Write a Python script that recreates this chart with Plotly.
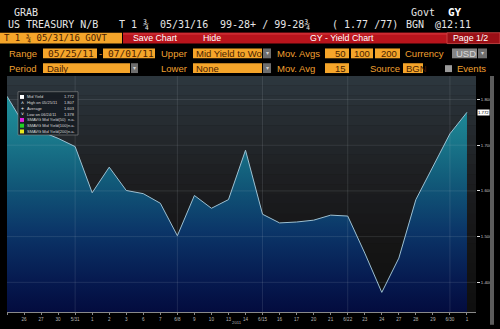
import plotly.graph_objects as go

# ---------------- data ----------------
dates = ["05/25/11", "05/26/11", "05/27/11", "05/30/11", "05/31/11", "06/01/11", "06/02/11",
         "06/03/11", "06/06/11", "06/07/11", "06/08/11", "06/09/11", "06/10/11", "06/13/11",
         "06/14/11", "06/15/11", "06/16/11", "06/17/11", "06/20/11", "06/21/11", "06/22/11",
         "06/23/11", "06/24/11", "06/27/11", "06/28/11", "06/29/11", "06/30/11", "07/01/11"]
tick_labels = ["", "26", "27", "30", "5/31", "1", "2", "3", "6", "7", "6/8", "9", "10", "13",
               "14", "6/15", "16", "17", "20", "21", "6/22", "23", "24", "27", "28", "29", "6/30", "1"]
mid_yield = [1.807, 1.745, 1.730, 1.715, 1.697, 1.596, 1.652, 1.601, 1.594, 1.573, 1.502, 1.590,
             1.562, 1.581, 1.689, 1.549, 1.530, 1.532, 1.536, 1.547, 1.545, 1.464, 1.378, 1.453,
             1.581, 1.654, 1.725, 1.772]
y_ticks = [1.4, 1.5, 1.6, 1.7, 1.8]
legend_labels = ["Mid Yield", "High on 05/25/11", "Average", "Low on 06/24/11",
                 "SMAVG Mid Yield(50)", "SMAVG Mid Yield(100)", "SMAVG Mid Yield(200)"]
legend_values = ["1.772", "1.807", "1.603", "1.378", "n.a.", "n.a.", "n.a."]
legend_marks = ["sq:#ffffff", "t:\u02c4", "t:+", "t:\u02c5", "sq:#e020e0", "sq:#22d022", "sq:#e8e820"]

Y_RANGE = [1.3351, 1.8514]
X_RANGE = [0, 27.53]

# ---------------- layout helpers ----------------
W, H = 500, 329
L, R, T, B = 7, 24, 76, 13
PW, PH = W - L - R, H - T - B
MONO = "DejaVu Sans Mono"
SANS = "Liberation Sans"
ORANGE = "#f5a52a"
ORANGE_TXT = "#f0a030"
DARK_TXT = "#4a1e00"


def xp(px):
    return (px - L) / PW


def yp(py):
    return (H - B - py) / PH


shapes = []
annots = []


def rect(x0, y0, x1, y1, fill, line=None, lw=0, layer="above"):
    shapes.append(dict(type="rect", xref="paper", yref="paper", x0=xp(x0), x1=xp(x1),
                       y0=yp(y1), y1=yp(y0), fillcolor=fill,
                       line=dict(color=line or fill, width=lw), layer=layer))


def txt(px, py, s, size, color, anchor="left", family=MONO):
    annots.append(dict(x=xp(px), y=yp(py), xref="paper", yref="paper", text=s,
                       showarrow=False, xanchor=anchor, yanchor="middle",
                       font=dict(family=family, size=size, color=color)))


def hexmix(a, b, t):
    a = [int(a[i:i + 2], 16) for i in (1, 3, 5)]
    b = [int(b[i:i + 2], 16) for i in (1, 3, 5)]
    return "#" + "".join(f"{round(a[k] + (b[k] - a[k]) * t):02x}" for k in range(3))


# ---------------- background bands in plot area ----------------
bg_stops = [(0.0, "#0e0e0e"), (0.2, "#131313"), (0.4, "#18181a"), (0.6, "#1e2023"),
            (0.8, "#252b30"), (1.0, "#2d373e")]
NB = 24
for i in range(NB):
    f = (i + 0.5) / NB
    for j in range(len(bg_stops) - 1):
        if bg_stops[j][0] <= f <= bg_stops[j + 1][0]:
            t = (f - bg_stops[j][0]) / (bg_stops[j + 1][0] - bg_stops[j][0])
            c = hexmix(bg_stops[j][1], bg_stops[j + 1][1], t)
    shapes.append(dict(type="rect", xref="paper", yref="paper", x0=0, x1=1,
                       y0=i / NB, y1=(i + 1) / NB, fillcolor=c, line=dict(width=0), layer="below"))

# ---------------- figure ----------------
x = list(range(len(dates)))
fig = go.Figure()
fig.add_trace(go.Scatter(
    x=x, y=mid_yield, mode="lines", line=dict(color="#9cc0d2", width=1),
    fill="tozeroy",
    fillgradient=dict(type="vertical", start=Y_RANGE[0], stop=Y_RANGE[1],
                      colorscale=[[0.0, "#030a3c"], [0.15, "#061a50"], [0.35, "#0b3568"],
                                  [0.55, "#115878"], [0.75, "#1a7a8c"], [0.9, "#1f8f9a"],
                                  [1.0, "#25a0a8"]]),
    hoverinfo="skip", showlegend=False))

# grid lines drawn above the fill
for v in y_ticks:
    shapes.append(dict(type="line", xref="paper", yref="y", x0=0, x1=1, y0=v, y1=v,
                       line=dict(color="rgba(200,210,220,0.13)", width=1), layer="above"))
for i, lab in enumerate(tick_labels):
    if "/" in lab:
        shapes.append(dict(type="line", xref="x", yref="paper", x0=i, x1=i, y0=0, y1=1,
                           line=dict(color="rgba(200,210,220,0.13)", width=1), layer="above"))

# current value box
annots.append(dict(x=1, y=mid_yield[-1], xref="paper", yref="y", text=f"{mid_yield[-1]:.3f}",
                   showarrow=False, xanchor="left", yanchor="middle", xshift=1,
                   bgcolor="#ffffff", borderpad=0,
                   font=dict(family=SANS, size=4.3, color="#000000")))

# year label
txt(237, 327, "2011", 4.3, "#b0b0b0", "center", SANS)

# right scrollbar
rect(490, 76, 494, 329, "#5c5c5c")

# ---------------- stats legend box ----------------
rect(18, 92, 78, 136, "rgba(22,28,34,0.9)", "#8a8a8a", 0.6)
for k, (lab, val, mk) in enumerate(zip(legend_labels, legend_values, legend_marks)):
    py = 97.3 + k * 5.85
    kind, spec = mk.split(":", 1)
    if kind == "sq":
        rect(20, py - 2, 24, py + 2, spec)
    else:
        txt(22, py, spec, 5, "#ffffff", "center", SANS)
    txt(25, py, lab, 4, "#d8d8d8", "left", SANS)
    txt(77, py, val, 4, "#d8d8d8", "right", SANS)

# ---------------- header ----------------
txt(12, 11, "GRAB", 10, "#e6e6e6")
txt(409, 11, "Govt", 10, "#e6e6e6")
txt(446, 11, "<b>GY</b>", 11, "#ffffff")
row2 = [(6, "US TREASURY N/B"), (117, "T 1 \u00be"), (158, "05/31/16"),
        (218, "99-28+ / 99-28\u00be"), (330, "( 1.77 /77)"), (404, "BGN"), (433, "@12:11")]
for px, s in row2:
    txt(px, 24, s, 10, "#e6e6e6")

# row 3: title bar
rect(0, 32, 122, 43, ORANGE)
txt(2, 37.5, "T 1 \u00be 05/31/16 GOVT", 9, DARK_TXT)
rect(123, 32, 447, 43, "#b8141c")
rect(123, 32, 447, 34, "#cc2a30")
rect(447, 32, 500, 43, "#9a0f16", "#d24a4a", 0.8)
txt(131, 37.5, "Save Chart", 8.8, "#ffffff", "left", SANS)
txt(201, 37.5, "Hide", 8.8, "#ffffff", "left", SANS)
txt(342, 37.5, "GY - Yield Chart", 8.8, "#ffffff", "center", SANS)
txt(470, 37.5, "Page 1/2", 8.8, "#ffffff", "center", SANS)


def dropdown(x0, y0, x1, y1):
    rect(x0, y0, x1, y1, "#6e6e6e")
    txt((x0 + x1) / 2, (y0 + y1) / 2, "\u25be", 6, "#d0d0d0", "center", SANS)


# row 4
r4a, r4b, r4c = 48, 58, 53
txt(7, r4c, "Range", 9.5, ORANGE_TXT, "left", SANS)
rect(43, r4a, 97, r4b, ORANGE)
txt(46, r4c, "05/25/11", 9.5, DARK_TXT)
txt(100, r4c, "-", 9.5, ORANGE_TXT, "center", SANS)
rect(103, r4a, 155, r4b, ORANGE)
txt(106, r4c, "07/01/11", 9.5, DARK_TXT)
txt(159, r4c, "Upper", 9.5, ORANGE_TXT, "left", SANS)
rect(193, r4a, 262, r4b, ORANGE)
txt(194, r4c, "Mid Yield to Wo", 9.5, DARK_TXT, "left", SANS)
dropdown(263, r4a, 271, r4b)
txt(275, r4c, "Mov. Avgs", 9.5, ORANGE_TXT, "left", SANS)
for a, b_, s in [(325, 349, "50"), (351, 373, "100"), (375, 400, "200")]:
    rect(a, r4a, b_, r4b, ORANGE)
    txt(b_ - 1, r4c, s, 9.5, DARK_TXT, "right", SANS)
txt(403, r4c, "Currency", 9.5, ORANGE_TXT, "left", SANS)
rect(452, r4a, 477, r4b, "#858585")
txt(454, r4c, "USD", 9.5, "#d8d8d8", "left", SANS)
dropdown(478, r4a, 487, r4b)

# row 5
r5a, r5b, r5c = 63, 73, 68
txt(7, r5c, "Period", 9.5, ORANGE_TXT, "left", SANS)
rect(43, r5a, 130, r5b, ORANGE)
txt(45, r5c, "Daily", 9.5, DARK_TXT, "left", SANS)
dropdown(131, r5a, 138, r5b)
txt(159, r5c, "Lower", 9.5, ORANGE_TXT, "left", SANS)
rect(193, r5a, 262, r5b, ORANGE)
txt(194, r5c, "None", 9.5, DARK_TXT, "left", SANS)
dropdown(263, r5a, 271, r5b)
txt(275, r5c, "Mov. Avg", 9.5, ORANGE_TXT, "left", SANS)
rect(325, r5a, 349, r5b, ORANGE)
txt(348, r5c, "15", 9.5, DARK_TXT, "right", SANS)
txt(368, r5c, "Source", 9.5, ORANGE_TXT, "left", SANS)
rect(403, r5a, 423, r5b, ORANGE)
txt(404, r5c, "BGN", 9.5, DARK_TXT, "left", SANS)
rect(445, 65, 452, 72, "#9a9a9a")
txt(455, r5c, "Events", 9.5, ORANGE_TXT, "left", SANS)

fig.update_layout(
    width=W, height=H, margin=dict(l=L, r=R, t=T, b=B, pad=0),
    paper_bgcolor="#000000", plot_bgcolor="#1a1a1a",
    shapes=shapes, annotations=annots, showlegend=False,
    xaxis=dict(range=X_RANGE, tickmode="array", tickvals=x, ticktext=tick_labels,
               tickfont=dict(family=SANS, size=4.6, color="#b8b8b8"), tickangle=0,
               ticks="outside", ticklen=2, tickcolor="#888888", showgrid=False,
               zeroline=False, showline=True, linecolor="#8a8a8a", linewidth=1),
    yaxis=dict(range=Y_RANGE, side="right", tickmode="array", tickvals=y_ticks,
               ticktext=[f"{v:.3f}" for v in y_ticks],
               tickfont=dict(family=SANS, size=4.3, color="#c8c8c8"),
               ticks="outside", ticklen=3, tickcolor="#e0e0e0", showgrid=False,
               zeroline=False, showline=False),
)

fig.write_html("out.html")
